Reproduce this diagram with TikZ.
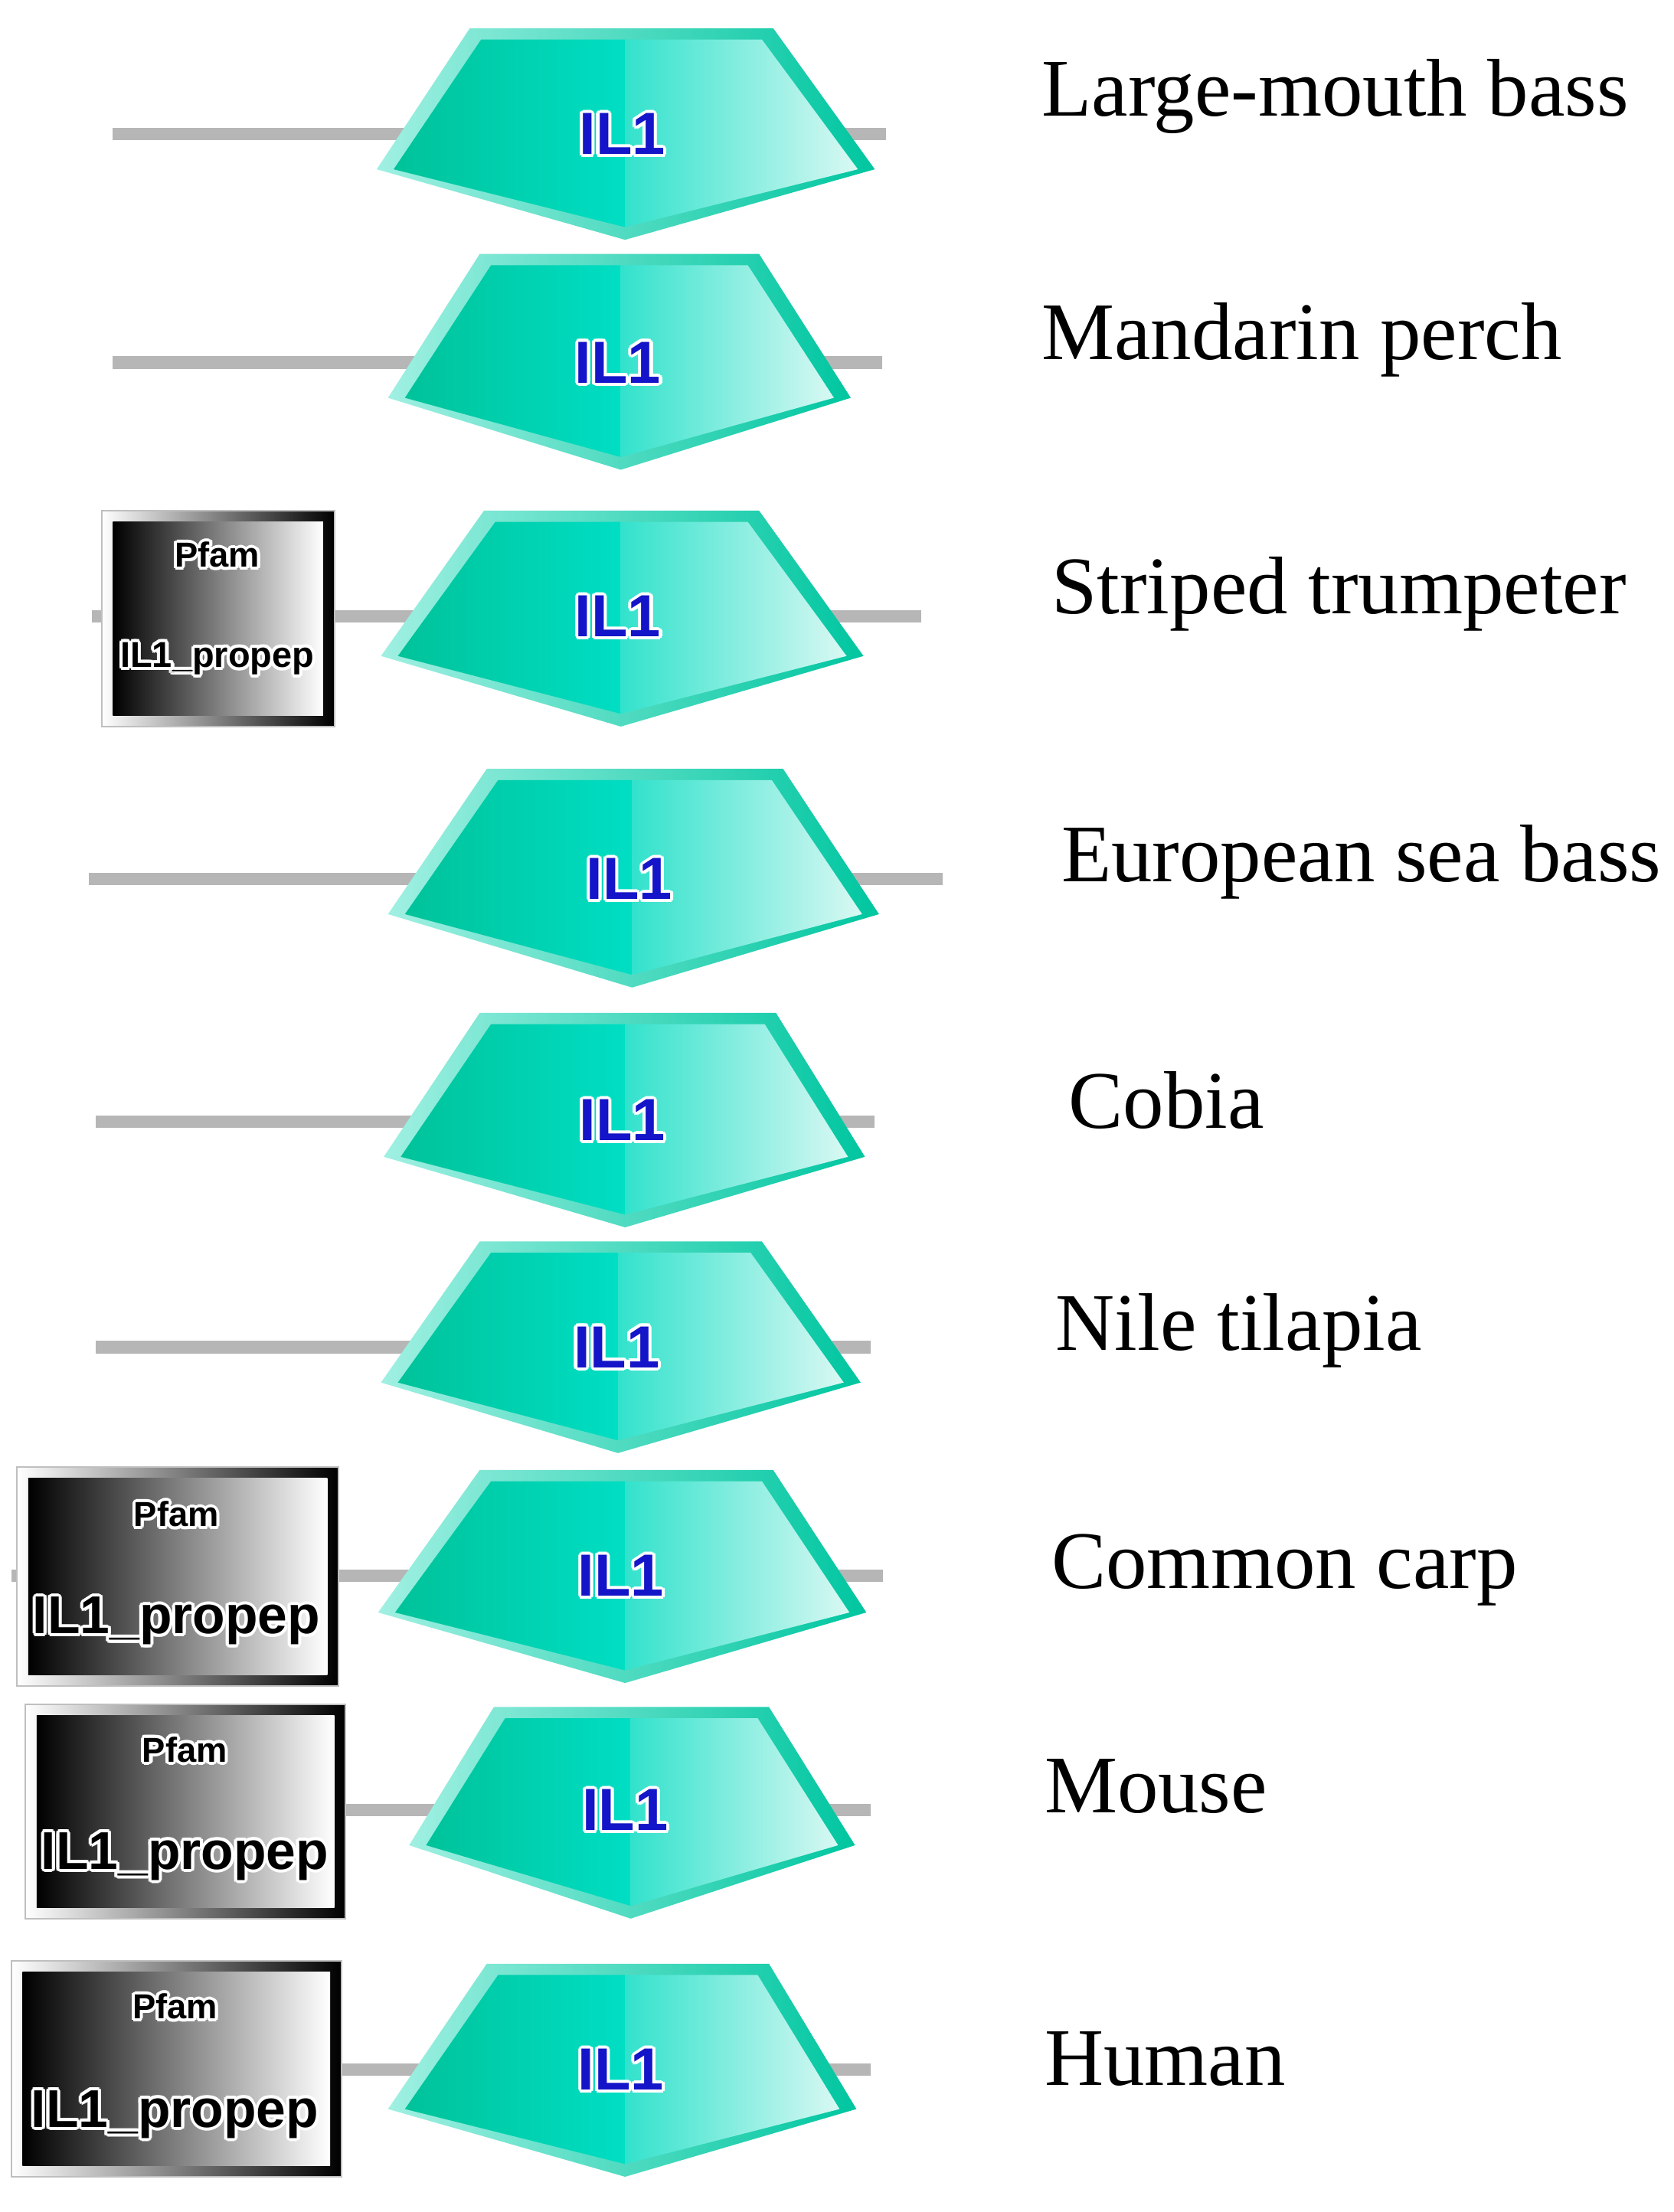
\documentclass[tikz,border=0pt]{standalone}
\usepackage{fontspec}
\setmainfont{Liberation Serif}
\newfontfamily\sansb{Liberation Sans}
\usetikzlibrary{calc}
\definecolor{backbone}{RGB}{182,182,182}
\definecolor{pbl}{RGB}{160,240,226}
\definecolor{pbr}{RGB}{0,198,160}
\definecolor{pl}{RGB}{0,192,150}
\definecolor{pm}{RGB}{0,222,196}
\definecolor{pmr}{RGB}{50,226,204}
\definecolor{pr}{RGB}{230,250,246}
\definecolor{ilblue}{RGB}{20,20,200}
\tikzset{
  bb/.style={line width=5pt, draw=backbone},
  lbl/.style={anchor=base west, inner sep=0, font=\fontsize{33}{38}\selectfont},
}
% glow text: name, x, y, anchor, font, colour, text
\newcommand\gtext[7]{%
  \foreach \a in {0,30,...,330}{\node[anchor=#4,inner sep=0,font={#5},text=white] at ($(#2,#3)+(\a:2.2)$) {#7};}
  \node[anchor=#4,inner sep=0,font={#5},text=#6] (#1) at (#2,#3) {#7};
}
% pentagon: top y, TL x, TR x, side y, left x, right x, bottom x, bottom y, name
\newcommand\pent[9]{%
  \coordinate (#9-c) at (#7,{(#1+#8)/2});
  \shade[left color=pbl, right color=pbr] (#2,#1) -- (#3,#1) -- (#6,#4) -- (#7,#8) -- (#5,#4) -- cycle;
  \begin{scope}
    \clip ({#2+8},{#1+8}) -- ({#3-8},{#1+8}) -- ({#6-12},#4) -- (#7,{#8-9}) -- ({#5+12},#4) -- cycle;
    \shade[left color=pl, right color=pm] (#5,#1) rectangle (#7,#8);
    \shade[left color=pmr, right color=pr] (#7,#1) rectangle (#6,#8);
  \end{scope}
}
% pfam box: x1, y1, x2, y2, name, text x, pfam baseline, propep baseline, propep size
\newcommand\pfam[9]{%
  \shade[left color=white, right color=black, draw=gray!50, line width=0.6pt] (#1,#2) rectangle (#3,#4);
  \shade[left color=black, right color=white] ({#1+8},{#2+8}) rectangle ({#3-8},{#4-8});
  \coordinate (#5) at ({(#1+#3)/2},{(#2+#4)/2});
  \gtext{#5-a}{#6}{#7}{base}{\sansb\bfseries\fontsize{14}{16}\selectfont}{black}{Pfam}
  \gtext{#5-b}{#6}{#8}{base}{\sansb\bfseries\fontsize{#9}{#9}\selectfont}{black}{IL1\_propep}
}
\newcommand\ilone[3]{\gtext{#1}{#2}{#3}{center}{\sansb\bfseries\fontsize{24}{28}\selectfont}{ilblue}{IL1}}
\begin{document}
\begin{tikzpicture}[x=0.02cm,y=-0.02cm]
\useasboundingbox (0,0) rectangle (1186,1568);
\fill[white] (0,0) rectangle (1186,1568);

% backbones
\coordinate (l1a) at (80,95);   \coordinate (l1b) at (628,95);
\coordinate (l2a) at (80,257);  \coordinate (l2b) at (625,257);
\coordinate (l3a) at (65,437);  \coordinate (l3b) at (653,437);
\coordinate (l4a) at (63,623);  \coordinate (l4b) at (668,623);
\coordinate (l5a) at (68,795);  \coordinate (l5b) at (620,795);
\coordinate (l6a) at (68,955);  \coordinate (l6b) at (617,955);
\coordinate (l7a) at (8,1117);  \coordinate (l7b) at (626,1117);
\coordinate (l8a) at (130,1283); \coordinate (l8b) at (617,1283);
\coordinate (l9a) at (124,1467); \coordinate (l9b) at (617,1467);
\foreach \i in {1,...,9}{\draw[bb] (l\i a) -- (l\i b);}

% Pfam boxes
\pfam{72}{362}{237}{515}{b3}{154}{402}{473}{14.5}
\pfam{12}{1040}{240}{1195}{b7}{125}{1082}{1158}{21.5}
\pfam{18}{1208}{245}{1360}{b8}{131}{1249}{1325}{21.5}
\pfam{8}{1390}{242}{1543}{b9}{124}{1431}{1508}{21.5}

% IL1 domains
\pent{20}{333}{548}{120}{267}{620}{443}{170}{p1}
\pent{180}{340}{538}{282}{275}{603}{440}{333}{p2}
\pent{362}{343}{538}{465}{270}{612}{440}{515}{p3}
\pent{545}{345}{555}{648}{275}{623}{448}{700}{p4}
\pent{718}{340}{550}{820}{272}{613}{443}{870}{p5}
\pent{880}{340}{540}{980}{270}{610}{438}{1030}{p6}
\pent{1042}{340}{548}{1143}{268}{614}{443}{1193}{p7}
\pent{1210}{350}{545}{1308}{290}{606}{447}{1360}{p8}
\pent{1392}{345}{545}{1495}{275}{607}{443}{1543}{p9}

\ilone{i1}{441}{95}
\ilone{i2}{438}{257}
\ilone{i3}{438}{437}
\ilone{i4}{446}{623}
\ilone{i5}{441}{794}
\ilone{i6}{437}{955}
\ilone{i7}{440}{1117}
\ilone{i8}{443}{1283}
\ilone{i9}{440}{1467}

% species labels
\node[lbl] (s1) at (738,82) {Large-mouth bass};
\node[lbl] (s2) at (738,255) {Mandarin perch};
\node[lbl] (s3) at (745,435) {Striped trumpeter};
\node[lbl] (s4) at (752,625) {European sea bass};
\node[lbl] (s5) at (757,800) {Cobia};
\node[lbl] (s6) at (748,957) {Nile tilapia};
\node[lbl] (s7) at (745,1126) {Common carp};
\node[lbl] (s8) at (740,1285) {Mouse};
\node[lbl] (s9) at (740,1478) {Human};
\end{tikzpicture}
\end{document}
